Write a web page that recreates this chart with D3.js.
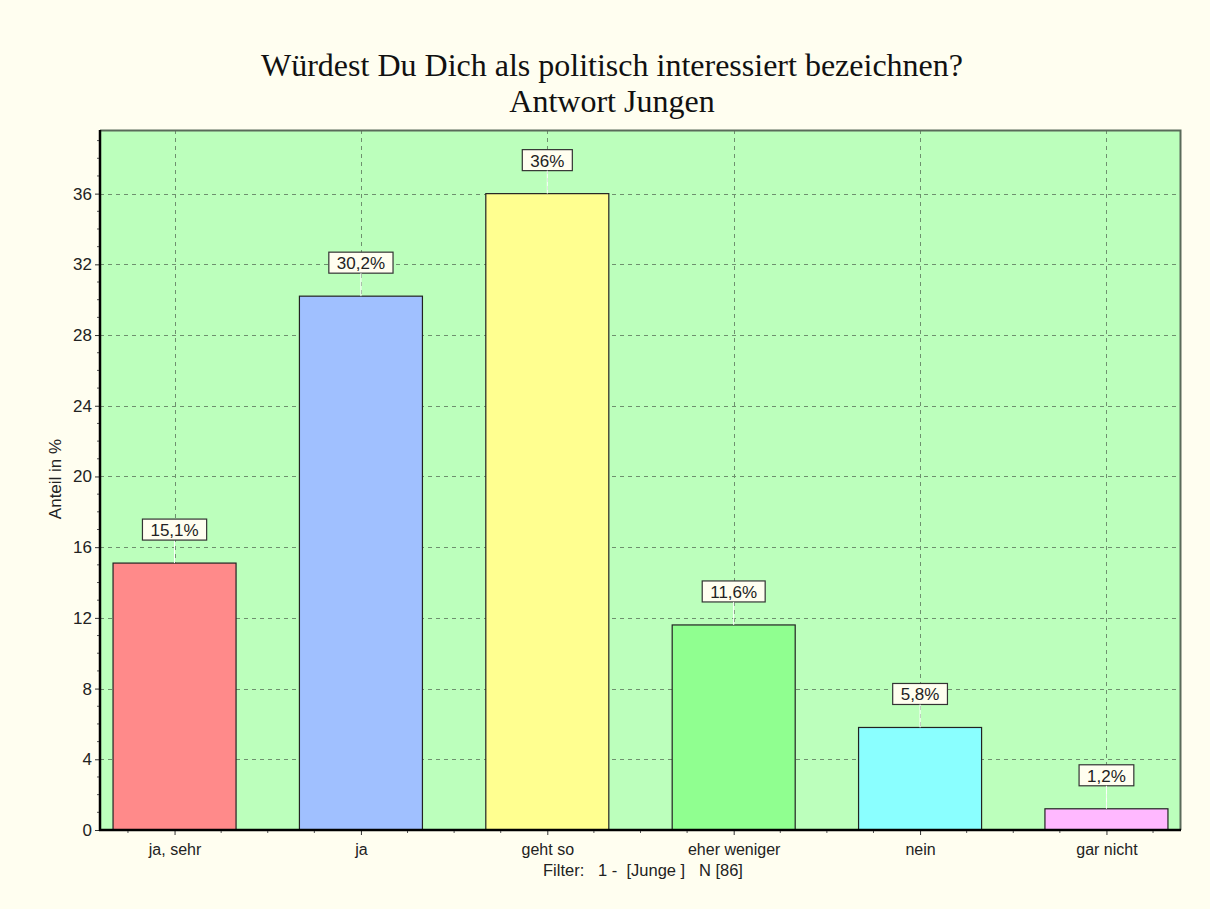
<!DOCTYPE html>
<html><head><meta charset="utf-8">
<script src="https://cdn.jsdelivr.net/npm/d3@7"></script>
<style>body{margin:0;background:#FFFEF0;} svg{display:block;}</style>
</head><body>
<svg id="chart" width="1210" height="909"></svg>
<script>
const categories = ["ja, sehr","ja","geht so","eher weniger","nein","gar nicht"];
const values = [15.1, 30.2, 36, 11.6, 5.8, 1.2];
const valueLabels = ["15,1%","30,2%","36%","11,6%","5,8%","1,2%"];
const colors = ["#FF8A8A","#A0C0FF","#FFFF90","#90FF90","#8AFFFF","#FFB8FF"];
const yTicks = [0,4,8,12,16,20,24,28,32,36];

const svg = d3.select("#chart");
svg.append("rect").attr("width",1210).attr("height",909).attr("fill","#FFFEF0");
const L=100, R=1181, T=130, B=830;
const x = d3.scaleLinear().domain([-0.4,5.4]).range([L,R]);
const y = d3.scaleLinear().domain([0,39.6]).range([B,T]);
const sans = "Liberation Sans, Arial, sans-serif";

svg.append("rect").attr("x",L).attr("y",T).attr("width",R-L).attr("height",B-T).attr("fill","#BCFFBC");

// grid
const grid = svg.append("g").attr("stroke","#6E906E").attr("stroke-dasharray","4,4").attr("stroke-width",1);
yTicks.filter(d=>d>0).forEach(d=>grid.append("line").attr("x1",L).attr("x2",R).attr("y1",Math.round(y(d))+0.5).attr("y2",Math.round(y(d))+0.5));
categories.forEach((c,i)=>grid.append("line").attr("x1",Math.round(x(i))+0.5).attr("x2",Math.round(x(i))+0.5).attr("y1",T).attr("y2",B));

// border top/right
svg.append("path").attr("d",`M${L},${T+0.5}H${R-0.5}V${B}`).attr("fill","none").attr("stroke","#5A6A5A").attr("stroke-width",2);

// bars
const bw = 0.66;
svg.append("g").selectAll("rect").data(values).join("rect")
 .attr("x",(d,i)=>x(i-bw/2)).attr("width",x(bw)-x(0))
 .attr("y",d=>y(d)).attr("height",d=>B-y(d))
 .attr("fill",(d,i)=>colors[i]).attr("stroke","#222").attr("stroke-width",1.2);

// leader lines & labels
const lab = svg.append("g");
values.forEach((v,i)=>{
  const cx = x(i), top = y(v);
  lab.append("line").attr("x1",cx).attr("x2",cx).attr("y1",top-23).attr("y2",top).attr("stroke","#FFFFFF").attr("stroke-width",1);
  const t = lab.append("text").attr("x",cx).attr("y",top-27).attr("text-anchor","middle")
    .attr("font-family",sans).attr("font-size",17).attr("fill","#222").text(valueLabels[i]);
  const bb = t.node().getBBox();
  lab.insert("rect","text").attr("x",cx-bb.width/2-8).attr("y",top-44).attr("width",bb.width+16).attr("height",21)
    .attr("fill","#FFFEF0").attr("stroke","#333").attr("stroke-width",1.2);
});
lab.selectAll("text").raise();

// axes
const yAxis = svg.append("g").attr("transform",`translate(${L},0)`)
  .call(d3.axisLeft(y).tickValues(yTicks).tickSize(5).tickPadding(3).tickFormat(d3.format("d")));
yAxis.select(".domain").remove();
yAxis.selectAll("text").attr("font-family",sans).attr("font-size",17).attr("fill","#222");
yAxis.selectAll("line").attr("stroke","#333");
const yMinor = d3.range(1,40).filter(d=>d%4!==0);
svg.append("g").selectAll("line").data(yMinor).join("line")
  .attr("x1",L-3).attr("x2",L).attr("y1",d=>y(d)).attr("y2",d=>y(d)).attr("stroke","#555");

const xAxis = svg.append("g").attr("transform",`translate(0,${B})`)
  .call(d3.axisBottom(x).tickValues(d3.range(0,6)).tickSize(5).tickPadding(9).tickFormat(i=>categories[i]));
xAxis.select(".domain").remove();
xAxis.selectAll("text").attr("font-family",sans).attr("font-size",16).attr("fill","#222");
xAxis.selectAll("line").attr("stroke","#333");
const xMinor = d3.range(-0.25,5.4,0.25).filter(d=>Math.abs(d-Math.round(d))>0.01);
svg.append("g").selectAll("line").data(xMinor).join("line")
  .attr("x1",d=>x(d)).attr("x2",d=>x(d)).attr("y1",B).attr("y2",B+3).attr("stroke","#555");

svg.append("line").attr("x1",L).attr("x2",L).attr("y1",T).attr("y2",B+1).attr("stroke","#000").attr("stroke-width",2.5);
svg.append("line").attr("x1",L-1).attr("x2",R).attr("y1",B).attr("y2",B).attr("stroke","#000").attr("stroke-width",2.5);

// titles
const serif = "Liberation Serif, Times New Roman, serif";
svg.append("text").attr("x",612).attr("y",76).attr("text-anchor","middle").attr("font-family",serif).attr("font-size",32).attr("fill","#111")
  .text("Würdest Du Dich als politisch interessiert bezeichnen?");
svg.append("text").attr("x",612).attr("y",112).attr("text-anchor","middle").attr("font-family",serif).attr("font-size",32).attr("fill","#111")
  .text("Antwort Jungen");
svg.append("text").attr("transform","translate(61,479) rotate(-90)").attr("text-anchor","middle").attr("font-family",sans).attr("font-size",17).attr("fill","#222")
  .text("Anteil in %");
svg.append("text").attr("x",643).attr("y",876).attr("text-anchor","middle").attr("font-family",sans).attr("font-size",16.5).attr("fill","#222")
  .attr("xml:space","preserve").style("white-space","pre")
  .text("Filter:   1 -  [Junge ]   N [86]");
</script>
</body></html>
